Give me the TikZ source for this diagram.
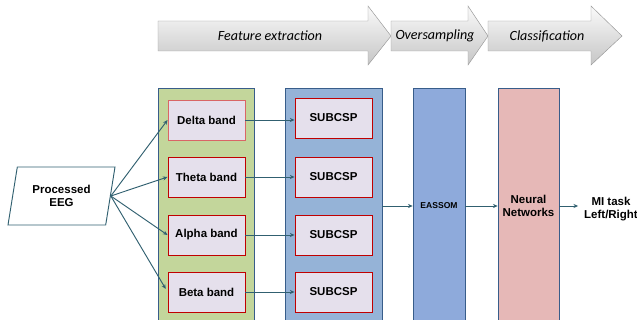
\documentclass[tikz,border=0pt]{standalone}
\usepackage{fontspec}
\setmainfont{Liberation Sans}
\newfontfamily\stagefont{Carlito}
\usetikzlibrary{shapes.geometric, arrows.meta}

\definecolor{bandgreen}{RGB}{195,214,155}
\definecolor{cspblue}{RGB}{149,179,215}
\definecolor{somblue}{RGB}{142,170,219}
\definecolor{nnpink}{RGB}{230,184,183}
\definecolor{boxfill}{RGB}{229,224,236}
\definecolor{boxred}{RGB}{192,0,0}
\definecolor{colline}{RGB}{56,93,138}
\definecolor{linkteal}{RGB}{49,96,112}

\begin{document}
\begin{tikzpicture}[x=0.03cm, y=-0.03cm, >={Stealth[length=4pt, width=3.5pt]},
	every node/.style={font=\bfseries\fontsize{9.8}{11.5}\selectfont},
	stage/.style={draw=gray!80, line width=0.4pt, top color=gray!4, bottom color=gray!45},
	stagetext/.style={font=\stagefont\itshape\fontsize{12}{14}\selectfont},
	col/.style={draw=colline, line width=0.6pt, minimum height=236*0.03cm},
	band/.style={draw=boxred, fill=boxfill, line width=0.8pt, minimum width=77*0.03cm, minimum height=40*0.03cm},
	link/.style={->, draw=linkteal, line width=0.8pt}]
	% 0. 画布裁切 (各列下端超出图框)
	\clip (0,0) rectangle (637,320);
	
	% 1. 顶部流程箭头 (渐变灰色)
	\shade[stage] (158,21) -- (368,21) -- (368,6) -- (391,36) -- (368,65) -- (368,51) -- (158,51) -- cycle;
	\shade[stage] (391,21) -- (468,21) -- (468,6) -- (488,36) -- (468,65) -- (468,51) -- (391,51) -- cycle;
	\shade[stage] (488,21) -- (591,21) -- (591,6) -- (622,36) -- (591,65) -- (591,51) -- (488,51) -- cycle;
	\node[stagetext] (fe) at (270,36) {Feature extraction};
	\node[stagetext] (os) at (435,36) {Oversampling};
	\node[stagetext] (cl) at (547,36) {Classification};
	
	% 2. 四个处理列
	\node[col, fill=bandgreen, minimum width=96*0.03cm] (bandcol) at (206,206) {};
	\node[col, fill=cspblue, minimum width=97*0.03cm] (cspcol) at (333.5,206) {};
	\node[col, fill=somblue, minimum width=52*0.03cm, font=\bfseries\fontsize{7.3}{9}\selectfont] (eassom) at (439,206) {EASSOM};
	\node[col, fill=nnpink, minimum width=61*0.03cm, align=center] (nn) at (528.5,206) {Neural\\Networks};
	
	% 3. 频带与 SUBCSP 方框
	\node[band, draw=boxred!60] (delta) at (206.5,120) {Delta band};
	\node[band] (theta) at (206.5,177) {Theta band};
	\node[band] (alpha) at (206.5,235) {Alpha band};
	\node[band] (beta) at (206.5,292) {Beta band};
	\node[band] (csp1) at (333.5,118) {SUBCSP};
	\node[band] (csp2) at (333.5,177) {SUBCSP};
	\node[band] (csp3) at (333.5,235) {SUBCSP};
	\node[band] (csp4) at (333.5,292) {SUBCSP};
	
	% 4. 输入与输出
	\node[trapezium, trapezium left angle=69, trapezium right angle=111, trapezium stretches body=true,
		draw=linkteal, line width=0.8pt, minimum width=107*0.03cm, minimum height=58*0.03cm,
		align=center, inner sep=1pt] (eeg) at (61.5,196) {Processed\\EEG};
	\node[align=center, inner sep=1pt] (out) at (611,209) {MI task\\Left/Right};
	
	% 5. 连线
	\draw[link] (eeg.east) -- (delta.west);
	\draw[link] (eeg.east) -- (theta.west);
	\draw[link] (eeg.east) -- (alpha.west);
	\draw[link, shorten >=3pt] (eeg.east) -- (beta.west);
	\draw[link] (delta.east) -- (csp1.west |- delta.east);
	\draw[link] (theta.east) -- (csp2.west);
	\draw[link] (alpha.east) -- (csp3.west);
	\draw[link] (beta.east) -- (csp4.west);
	\draw[link] (cspcol.east) -- (eassom.west);
	\draw[link] (eassom.east) -- (nn.west);
	\draw[link, shorten >=4pt] (nn.east) -- (out.west |- nn.east);
\end{tikzpicture}
\end{document}
